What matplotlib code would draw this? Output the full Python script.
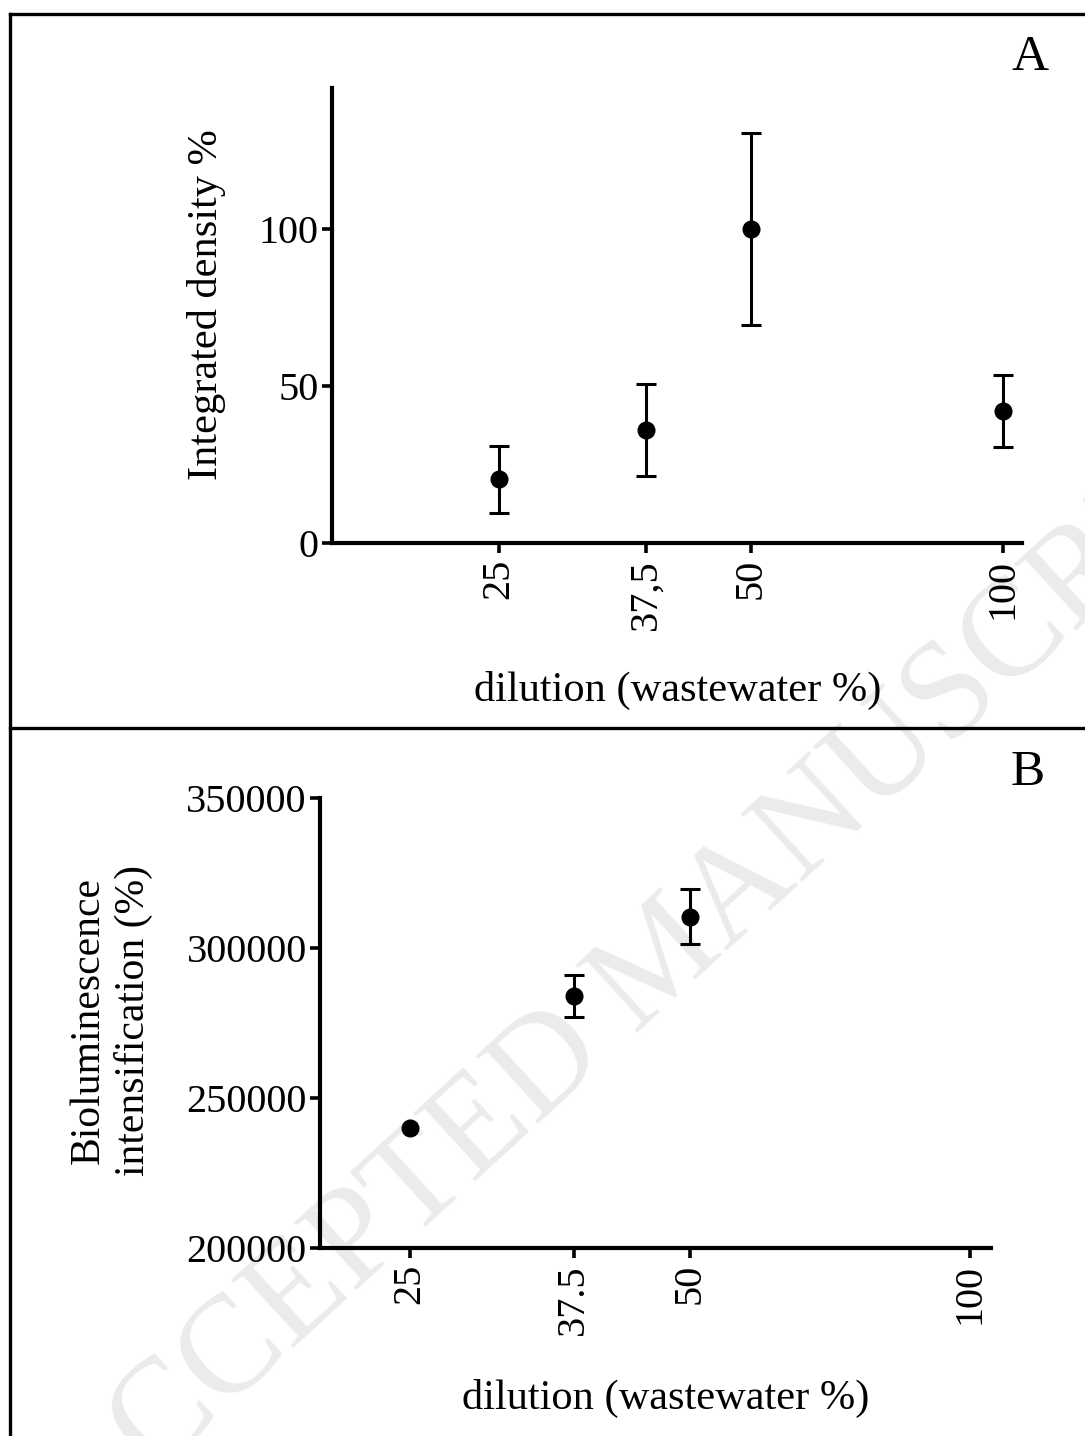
import matplotlib
matplotlib.use("Agg")
import matplotlib.pyplot as plt
from matplotlib.lines import Line2D
from matplotlib.ticker import FixedLocator, FixedFormatter, NullLocator

plt.rcParams['font.family'] = ['Liberation Serif', 'DejaVu Serif']

# ---- data ----
dilution_a = [25, 37.5, 50, 100]
density_a = [20.3, 36.0, 100.0, 42.0]
density_err_a = [10.6, 14.8, 30.6, 11.4]
xticks_a = [25, 37.5, 50, 100]
xticklabels_a = ["25", "37,5", "50", "100"]
yticks_a = [0, 50, 100]

dilution_b = [25, 37.5, 50]
biolum_b = [240000, 284000, 310500]
biolum_err_b = [0, 7000, 9100]
xticks_b = [25, 37.5, 50, 100]
xticklabels_b = ["25", "37.5", "50", "100"]
yticks_b = [200000, 250000, 300000, 350000]

W, H = 1085, 1436
fig = plt.figure(figsize=(W / 100, H / 100), dpi=100)
fig.patch.set_facecolor('white')


def fx(px):
    return px / W


def fy(py):
    return 1 - py / H


# watermark
fig.text(fx(665), fy(962), "ACCEPTED MANUSCRIPT", rotation=42.5, fontsize=100,
         color='#ebebeb', ha='center', va='center', zorder=-5)

# panel borders
lw_border = 2.4
for (x0, y0, x1, y1) in [(10, 14, W, 14), (10, 14, 10, H), (10, 728, W, 728)]:
    fig.add_artist(Line2D([fx(x0), fx(x1)], [fy(y0), fy(y1)], color='black',
                          lw=lw_border, transform=fig.transFigure))

TICK_FS = 29
LABEL_FS = 30.5


def style_axis(ax, xticks, xlabels, yticks, ylabels):
    ax.set_facecolor('none')
    for s in ['top', 'right']:
        ax.spines[s].set_visible(False)
    for s in ['left', 'bottom']:
        ax.spines[s].set_linewidth(3.0)
    ax.set_xscale('log')
    ax.xaxis.set_major_locator(FixedLocator(xticks))
    ax.xaxis.set_major_formatter(FixedFormatter(xlabels))
    ax.xaxis.set_minor_locator(NullLocator())
    ax.yaxis.set_major_locator(FixedLocator(yticks))
    ax.yaxis.set_major_formatter(FixedFormatter(ylabels))
    ax.tick_params(axis='both', direction='out', length=7.5, width=2.6,
                   labelsize=TICK_FS, pad=2)
    ax.tick_params(axis='x', labelrotation=90, pad=4)


def draw_points(ax, xs, ys, errs):
    ax.plot(xs, ys, 'o', color='black', markersize=12, clip_on=False, zorder=3)
    ex = [x for x, e in zip(xs, errs) if e > 0]
    ey = [y for y, e in zip(ys, errs) if e > 0]
    ee = [e for e in errs if e > 0]
    ax.errorbar(ex, ey, yerr=ee, fmt='none', ecolor='black',
                elinewidth=2.2, capsize=7.5, capthick=2.2, clip_on=False)


# ---- Panel A ----
axA = fig.add_axes([fx(332), fy(543), fx(1022) - fx(332), (543 - 88) / H])
draw_points(axA, dilution_a, density_a, density_err_a)
axA.set_xlim(15.8, 105.4)
axA.set_ylim(0, 145)
style_axis(axA, xticks_a, xticklabels_a, yticks_a, [str(v) for v in yticks_a])
fig.text(fx(207), fy(305), "Integrated density %", rotation=90, fontsize=LABEL_FS,
         ha='center', va='center')
fig.text(fx(678), fy(690), "dilution (wastewater %)", fontsize=LABEL_FS,
         ha='center', va='center')
fig.text(fx(1030), fy(58), "A", fontsize=37, ha='center', va='center')

# ---- Panel B ----
axB = fig.add_axes([fx(320), fy(1248), fx(991) - fx(320), (1248 - 798) / H])
draw_points(axB, dilution_b, biolum_b, biolum_err_b)
axB.set_xlim(20, 105.3)
axB.set_ylim(200000, 350000)
style_axis(axB, xticks_b, xticklabels_b, yticks_b, [str(v) for v in yticks_b])
fig.text(fx(111), fy(1020), "Bioluminescence\nintensification (%)", rotation=90,
         fontsize=LABEL_FS - 0.5, ha='center', va='center', multialignment='center',
         linespacing=1.2)
fig.text(fx(666), fy(1398), "dilution (wastewater %)", fontsize=LABEL_FS,
         ha='center', va='center')
fig.text(fx(1028), fy(773), "B", fontsize=37, ha='center', va='center')

fig.savefig("out.png", dpi=100)
